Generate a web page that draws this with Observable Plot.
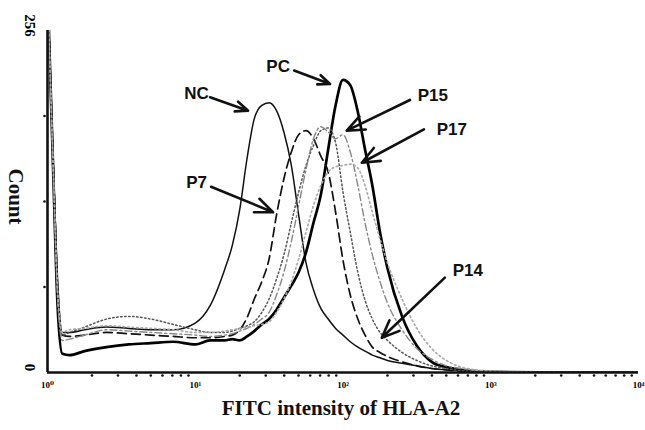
<!DOCTYPE html>
<html><head><meta charset="utf-8">
<script src="https://cdn.jsdelivr.net/npm/d3@7"></script>
<script src="https://cdn.jsdelivr.net/npm/@observablehq/plot@0.6"></script>
<style>body{margin:0;background:#fff}</style>
</head><body><div id="chart"></div>
<script>
// FITC intensity grid (read positions along the log axis)
const intensity = [1, 1.1, 1.17, 1.26, 1.41, 1.78, 2.51, 3.55, 5.01, 7.08, 10, 12.6, 15.8, 17.8, 20, 22.4, 25.1, 28.2, 31.6, 35.5, 39.8, 44.7, 50.1, 56.2, 63.1, 70.8, 79.4, 89.1, 100, 112, 126, 141, 158, 178, 200, 251, 316, 398, 501, 631, 1000, 3162, 10000];
const seriesNames = ["NC", "PC", "P7", "P14", "P15", "P17"];
const countNC  = [290,150,70,30,30,32,34,33,32,32, 37,50,77,95,122,160,190,200,202,196, 180,155,118,82,62,48,40,33,28,23, 19,16,13,11,9,7,5,3,2,1.5, 0.5,0,0];
const countPC  = [290,140,50,14,13,16,19,21,22,23, 21,24,24,25,24,27,31,36,40,47, 56,65,75,90,112,133,167,200,219,215, 195,167,140,105,78,42,20,8,4,2, 0.5,0,0];
const countP7  = [290,150,65,28,27,28,30,29,28,27, 26,26,27,28,32,41,55,68,85,118, 145,165,178,181,175,162,150,120,84,58, 40,28,19,15,12,8,5,3,2,1, 0.5,0,0];
const countP14 = [290,150,60,28,30,34,40,42,40,36, 32,30,30,31,33,35,38,45,55,70, 88,112,135,155,170,181,183,172,135,105, 75,54,40,30,24,15,9,5,3,1.5, 0.5,0,0];
const countP15 = [290,140,55,24,25,28,32,31,30,29, 28,27,28,29,31,33,36,40,45,58, 75,98,125,152,175,184,180,175,178,165, 140,112,88,68,52,32,18,10,5,3, 1,0,0];
const countP17 = [290,145,62,30,32,33,35,34,33,32, 30,30,31,32,33,34,35,36,38,45, 55,68,85,105,125,140,150,154,155,156, 153,140,120,100,82,55,33,18,9,4, 1,0,0];

// annotation labels and arrows (data units)
const labels  = ["NC", "PC", "P7", "P15", "P17", "P14"];
const labelX  = [10.2, 36.4, 10.2, 405, 545, 699];
const labelY  = [209, 229, 142, 207, 182, 76];
const arrowX1 = [12.6, 46.7, 12.8, 284, 353, 489];
const arrowY1 = [206, 226, 139, 204, 182, 71];
const arrowX2 = [22.8, 81.7, 33.6, 106, 134, 183];
const arrowY2 = [196, 216, 120, 181, 157, 26];

const majorTicks = [1, 10, 100, 1000, 10000];
const majorLabels = ["10\u2070", "10\u00B9", "10\u00B2", "10\u00B3", "10\u2074"];
const minorTicks = [2,3,4,5,6,7,8,9, 20,30,40,50,60,70,80,90, 200,300,400,500,600,700,800,900, 2000,3000,4000,5000,6000,7000,8000,9000];
const yTicks = [64, 128, 192];
const yLabelTicks = [0, 256];

const allCounts = [countNC, countPC, countP7, countP14, countP15, countP17];
const rows = [];
seriesNames.forEach((s, si) => intensity.forEach((v, i) => rows.push({series: s, x: v, y: allCounts[si][i]})));
const styles = {
  NC:  {stroke: "#111", strokeWidth: 1.5, dash: null},
  PC:  {stroke: "#000", strokeWidth: 2.7, dash: null},
  P7:  {stroke: "#111", strokeWidth: 1.7, dash: "9,5"},
  P14: {stroke: "#555", strokeWidth: 1.5, dash: "1.5,2.5"},
  P15: {stroke: "#888", strokeWidth: 1.4, dash: "7,3,2,3"},
  P17: {stroke: "#aaa", strokeWidth: 1.7, dash: "1.5,3"}
};
const ann = labels.map((t, i) => ({t, lx: labelX[i], ly: labelY[i], x1: arrowX1[i], y1: arrowY1[i], x2: arrowX2[i], y2: arrowY2[i]}));

const serif = "'Liberation Serif', 'DejaVu Serif', serif";
const lineMarks = seriesNames.map(s => Plot.line(rows.filter(r => r.series === s), {
  x: "x", y: "y", stroke: styles[s].stroke, strokeWidth: styles[s].strokeWidth,
  strokeDasharray: styles[s].dash, curve: "monotone-x", clip: true
}));

const chart = Plot.plot({
  width: 645, height: 430,
  marginLeft: 47, marginRight: 7, marginTop: 30, marginBottom: 58,
  x: {type: "log", domain: [1, 10000]},
  y: {domain: [0, 256]},
  style: {background: "#fff"},
  marks: [
    ...lineMarks,
    Plot.ruleY([0], {strokeWidth: 2.6, stroke: "#111"}),
    Plot.ruleX([1], {strokeWidth: 2.6, stroke: "#111", y1: 0, y2: 256}),
    Plot.axisX(majorTicks, {tickSize: 0, tickPadding: 9, tickFormat: (d) => majorLabels[majorTicks.indexOf(d)], fontSize: 9, fontWeight: "bold", fontFamily: serif, label: null}),
    Plot.dot(minorTicks, {x: d => d, y: 0, dy: 3, r: 1.3, fill: "#111", stroke: null}),
    Plot.dot(yTicks, {x: 1, y: d => d, dx: -3, r: 1.3, fill: "#111", stroke: null}),
    Plot.axisY(yLabelTicks, {tickSize: 0, tickPadding: 12, tickRotate: 90, fontSize: 15, fontWeight: "bold", fontFamily: serif, label: null, dy: -5}),
    Plot.arrow(ann, {x1: "x1", y1: "y1", x2: "x2", y2: "y2", strokeWidth: 2.6, stroke: "#111", headLength: 11, headAngle: 45}),
    Plot.text(ann, {x: "lx", y: "ly", text: "t", fontSize: 17, fontWeight: "bold", fontFamily: "'Liberation Sans', Arial, sans-serif", fill: "#111"}),
    Plot.text(["Count"], {frameAnchor: "left", textAnchor: "middle", lineAnchor: "middle", rotate: 90, dx: -32, dy: -5, fontSize: 21, fontWeight: "bold", fontFamily: serif, fill: "#111"}),
    Plot.text(["FITC intensity of HLA-A2"], {frameAnchor: "bottom", textAnchor: "middle", lineAnchor: "middle", dy: 36, dx: -2, fontSize: 21, fontWeight: "bold", fontFamily: serif, fill: "#111"})
  ]
});
document.getElementById("chart").appendChild(chart);
</script>
</body></html>
